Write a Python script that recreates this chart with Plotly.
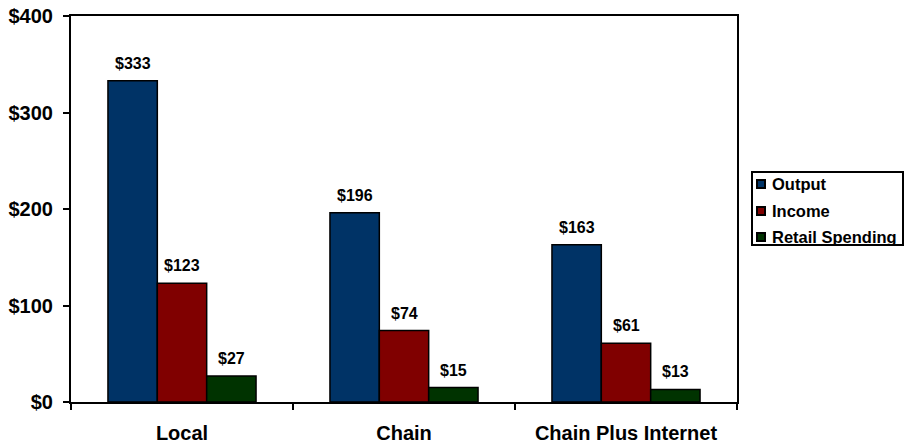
import plotly.graph_objects as go

categories = ["Local", "Chain", "Chain Plus Internet"]
output_vals = [333, 196, 163]
income_vals = [123, 74, 61]
retail_vals = [27, 15, 13]
y_ticks = [0, 100, 200, 300, 400]
y_tick_labels = ["$0", "$100", "$200", "$300", "$400"]

series = [
    ("Output", output_vals, "#003366"),
    ("Income", income_vals, "#800000"),
    ("Retail Spending", retail_vals, "#003300"),
]

FONT = "Arial, Liberation Sans, sans-serif"
W, H = 907, 444
ML, MR, MT, MB = 71, 170, 16, 42
PW, PH = W - ML - MR, H - MT - MB
BARGAP = 0.333
bar_px = PW / len(categories) * (1 - BARGAP) / len(series)


def px_x(px):
    return (px - ML) / PW


def px_y(py):
    return (H - MB - py) / PH


fig = go.Figure()
for i, (name, vals, color) in enumerate(series):
    fig.add_trace(go.Bar(
        name=name,
        x=categories,
        y=vals,
        marker=dict(color=color, line=dict(color="black", width=1.5)),
        showlegend=False,
    ))
    # value labels above each bar
    for cat, v in zip(categories, vals):
        fig.add_annotation(
            x=cat, y=v, xref="x", yref="y",
            text=f"${v}", showarrow=False,
            xanchor="center", yanchor="bottom",
            xshift=(i - 1) * bar_px, yshift=7,
            font=dict(family=FONT, size=16, color="black", weight="bold"),
        )

# legend box drawn in paper coordinates
fig.add_shape(type="rect", xref="paper", yref="paper",
              x0=px_x(752), x1=px_x(903), y0=px_y(245), y1=px_y(172),
              line=dict(color="black", width=2), fillcolor="white")
row_y = [184, 211, 237]
for (name, vals, color), ry in zip(series, row_y):
    fig.add_shape(type="rect", xref="paper", yref="paper",
                  x0=px_x(757), x1=px_x(765), y0=px_y(ry + 4), y1=px_y(ry - 4),
                  line=dict(color="black", width=2), fillcolor=color)
    fig.add_annotation(x=px_x(770), y=px_y(ry), xref="paper", yref="paper",
                       text=name, showarrow=False, xanchor="left", yanchor="middle",
                       font=dict(family=FONT, size=16.5, color="black", weight="bold"))

fig.update_layout(
    width=W,
    height=H,
    margin=dict(l=ML, r=MR, t=MT, b=MB, autoexpand=False),
    paper_bgcolor="white",
    plot_bgcolor="white",
    barmode="group",
    bargap=BARGAP,
    bargroupgap=0,
    showlegend=False,
    font=dict(family=FONT, color="black"),
    xaxis=dict(
        showline=True, linecolor="black", linewidth=2, mirror=True,
        ticks="outside", tickson="boundaries", ticklen=6, tickwidth=2, tickcolor="black",
        tickfont=dict(size=20, weight="bold"),
        ticklabelstandoff=12,
        showgrid=False, automargin=False,
    ),
    yaxis=dict(
        range=[0, 400],
        tickvals=y_ticks, ticktext=y_tick_labels,
        showline=True, linecolor="black", linewidth=2, mirror=True,
        ticks="outside", ticklen=6, tickwidth=2, tickcolor="black",
        tickfont=dict(size=20, weight="bold"),
        ticklabelstandoff=6,
        showgrid=False, zeroline=False, automargin=False,
    ),
)

fig.write_html("out.html")
